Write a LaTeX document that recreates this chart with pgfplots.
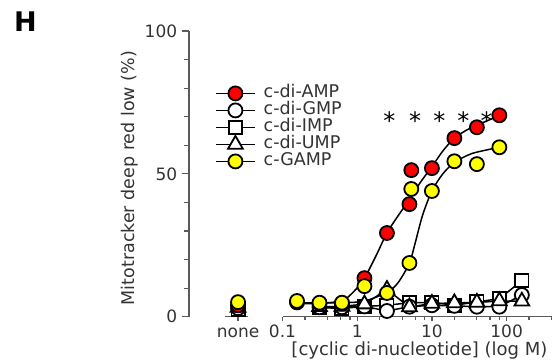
\documentclass[border=0pt]{standalone}
\usepackage{pgfplots}
\pgfplotsset{compat=1.18}
\usepackage{pgfplotstable}
\usepackage{fontspec}
\setmainfont{DejaVu Sans}
\definecolor{txt}{HTML}{333333}
\definecolor{axc}{HTML}{5A5A5A}
\definecolor{myred}{HTML}{FF0000}
\definecolor{myyellow}{HTML}{FFFF00}

\pgfplotstableread{
x y
0.0254 4.0
0.05 nan
0.15625 5.0
0.3125 4.6
0.625 4.6
1.25 13.5
2.5 29.3
5 39.4
5.3 51.3
10 52.0
20 62.5
40 66.3
80 70.5
}\ampmarks

\pgfplotstableread{
x y
0.15625 4.6
0.3125 4.7
0.625 5.6
0.9 8.8
1.25 13.5
1.8 21.5
2.5 29.3
3.5 35.2
5 41.0
7 47.0
10 52.5
14 58.0
20 62.5
30 65.5
40 67.0
60 69.0
80 70.3
}\ampfit

\pgfplotstableread{
x y
0.0254 5.1
0.05 nan
0.15625 5.5
0.3125 4.9
0.625 4.9
1.25 10.7
2.5 8.3
5 18.8
5.3 44.7
10 44.0
20 54.4
40 53.4
80 59.3
}\gampmarks

\pgfplotstableread{
x y
0.15625 4.9
0.625 4.9
1.25 5.5
2.5 8.5
3.5 11.8
5 18.8
6 26.0
7.5 35.5
10 44.0
14 50.0
20 54.0
30 56.5
40 57.6
80 59.3
}\gampfit

\pgfplotstableread{
x y
0.0254 2.5
0.05 nan
0.3125 3.2
0.625 2.9
1.25 3.6
2.5 4.0
5 4.9
10 5.0
20 4.0
40 5.2
80 6.3
160 12.6
}\imp

\pgfplotstableread{
x y
0.0254 3.0
0.05 nan
0.3125 3.3
0.625 3.3
1.25 3.6
2.5 2.0
5 3.5
10 4.0
20 3.8
40 3.5
80 3.5
160 7.6
}\gmp

\pgfplotstableread{
x y
0.0254 3.2
0.05 nan
0.3125 3.5
0.625 3.6
1.25 4.4
2.5 9.5
5 3.4
10 4.6
20 4.8
40 5.0
80 5.5
160 5.4
}\ump

\begin{document}
\begin{tikzpicture}[x=1pt,y=1pt]
\useasboundingbox (0,0) rectangle (553,362);
\node[font=\bfseries\fontsize{27}{27}\selectfont, anchor=center, inner sep=0pt] at (25.5,340.3) {H};
\begin{axis}[
  at={(189pt,45.3pt)}, anchor=south west,
  scale only axis, width=364pt, height=285.7pt,
  xmode=log, xmin=0.0056, xmax=418, ymin=0, ymax=100,
  clip=false, unbounded coords=jump,
  axis x line*=bottom, axis y line*=left,
  x axis line style={draw=none},
  y axis line style={axc, line width=1.2pt, -},
  ytick={0,50,100}, minor ytick={10,20,30,40,60,70,80,90},
  xtick={0.1,1,10,100}, xticklabels={0.1,1,10,100},
  extra x ticks={0.0254}, extra x tick labels={none},
  minor xtick={0.2,0.4,0.6,0.8,2,4,6,8,20,40,60,80,200,400},
  tick align=outside,
  tick style={axc, line width=1.2pt},
  major tick length=4.5pt, minor tick length=3pt,
  ytick style={/pgfplots/major tick length=7.5pt, /pgfplots/minor tick length=5pt},
  ticklabel style={font=\fontsize{17}{17}\selectfont, text=txt},
  yticklabel style={xshift=-3.8pt},
  xticklabel style={anchor=north, inner sep=0pt, text height=12.4pt, text depth=0pt, yshift=-4pt},
  /pgf/number format/assume math mode=true,
  xlabel={[cyclic di-nucleotide] (log M)},
  ylabel={Mitotracker deep red low (\%)},
  xlabel style={at={(axis description cs:0.633,-0.1357)}, anchor=base, inner sep=0pt, font=\fontsize{18}{18}\selectfont, text=txt},
  ylabel style={at={(axis description cs:-0.162,0.485)}, anchor=center, font=\fontsize{17.5}{17.5}\selectfont, text=txt},
  legend image code/.code={\draw[mark repeat=2,mark phase=2,#1] plot coordinates {(0pt,0pt) (19.5pt,0pt) (39pt,0pt)};},
  legend style={at={(axis description cs:0.0714,0.812)}, anchor=north west, draw=none, fill=none,
    font=\fontsize{17.5}{17.5}\selectfont, text=txt, inner sep=0pt, row sep=0pt, column sep=7pt,
    nodes={inner sep=1pt, text height=12pt, text depth=3pt}},
  legend cell align=left,
]
\addlegendimage{black, line width=1.5pt, mark=*, mark options={fill=myred, draw=black, line width=1.8pt, mark size=7pt}}
\addlegendimage{black, line width=1.5pt, mark=*, mark options={fill=white, draw=black, line width=1.8pt, mark size=7pt}}
\addlegendimage{black, line width=1.5pt, mark=square*, mark options={fill=white, draw=black, line width=1.8pt, mark size=6.6pt}}
\addlegendimage{black, line width=1.5pt, mark=triangle*, mark options={fill=white, draw=black, line width=1.8pt, mark size=8.5pt}}
\addlegendimage{black, line width=1.5pt, mark=*, mark options={fill=myyellow, draw=black, line width=1.8pt, mark size=7pt}}
\legend{c-di-AMP,c-di-GMP,c-di-IMP,c-di-UMP,c-GAMP}

\draw[axc, line width=1.2pt] (axis cs:0.1,0) -- (axis cs:400,0);
\draw[axc, line width=1.2pt] (axis cs:0.017,0) -- (axis cs:0.0345,0);

\addplot[forget plot, black, line width=1.5pt, smooth, no marks] table {\ampfit};
\addplot[forget plot, black, line width=1.5pt, smooth, no marks] table {\gampfit};
\addplot[forget plot, black, line width=1.5pt, mark=square*, mark options={fill=white, draw=black, line width=1.8pt, mark size=6.6pt}] table {\imp};
\addplot[forget plot, black, line width=1.5pt, mark=*, mark options={fill=white, draw=black, line width=1.8pt, mark size=7pt}] table {\gmp};
\addplot[forget plot, black, line width=1.5pt, mark=triangle*, mark options={fill=white, draw=black, line width=1.8pt, mark size=8.5pt}] table {\ump};
\addplot[forget plot, only marks, mark=*, mark options={fill=myred, draw=black, line width=1.8pt, mark size=7pt}] table {\ampmarks};
\addplot[forget plot, only marks, mark=*, mark options={fill=myyellow, draw=black, line width=1.8pt, mark size=7pt}] table {\gampmarks};

\node[font=\fontsize{24}{24}\selectfont, text=black, inner sep=0pt, anchor=base, yshift=-14pt] at (axis cs:2.69,70.5) {*};
\node[font=\fontsize{24}{24}\selectfont, text=black, inner sep=0pt, anchor=base, yshift=-14pt] at (axis cs:5.94,70.5) {*};
\node[font=\fontsize{24}{24}\selectfont, text=black, inner sep=0pt, anchor=base, yshift=-14pt] at (axis cs:12.56,70.5) {*};
\node[font=\fontsize{24}{24}\selectfont, text=black, inner sep=0pt, anchor=base, yshift=-14pt] at (axis cs:26.3,70.5) {*};
\node[font=\fontsize{24}{24}\selectfont, text=black, inner sep=0pt, anchor=base, yshift=-14pt] at (axis cs:54.2,70.5) {*};
\end{axis}
\end{tikzpicture}
\end{document}
